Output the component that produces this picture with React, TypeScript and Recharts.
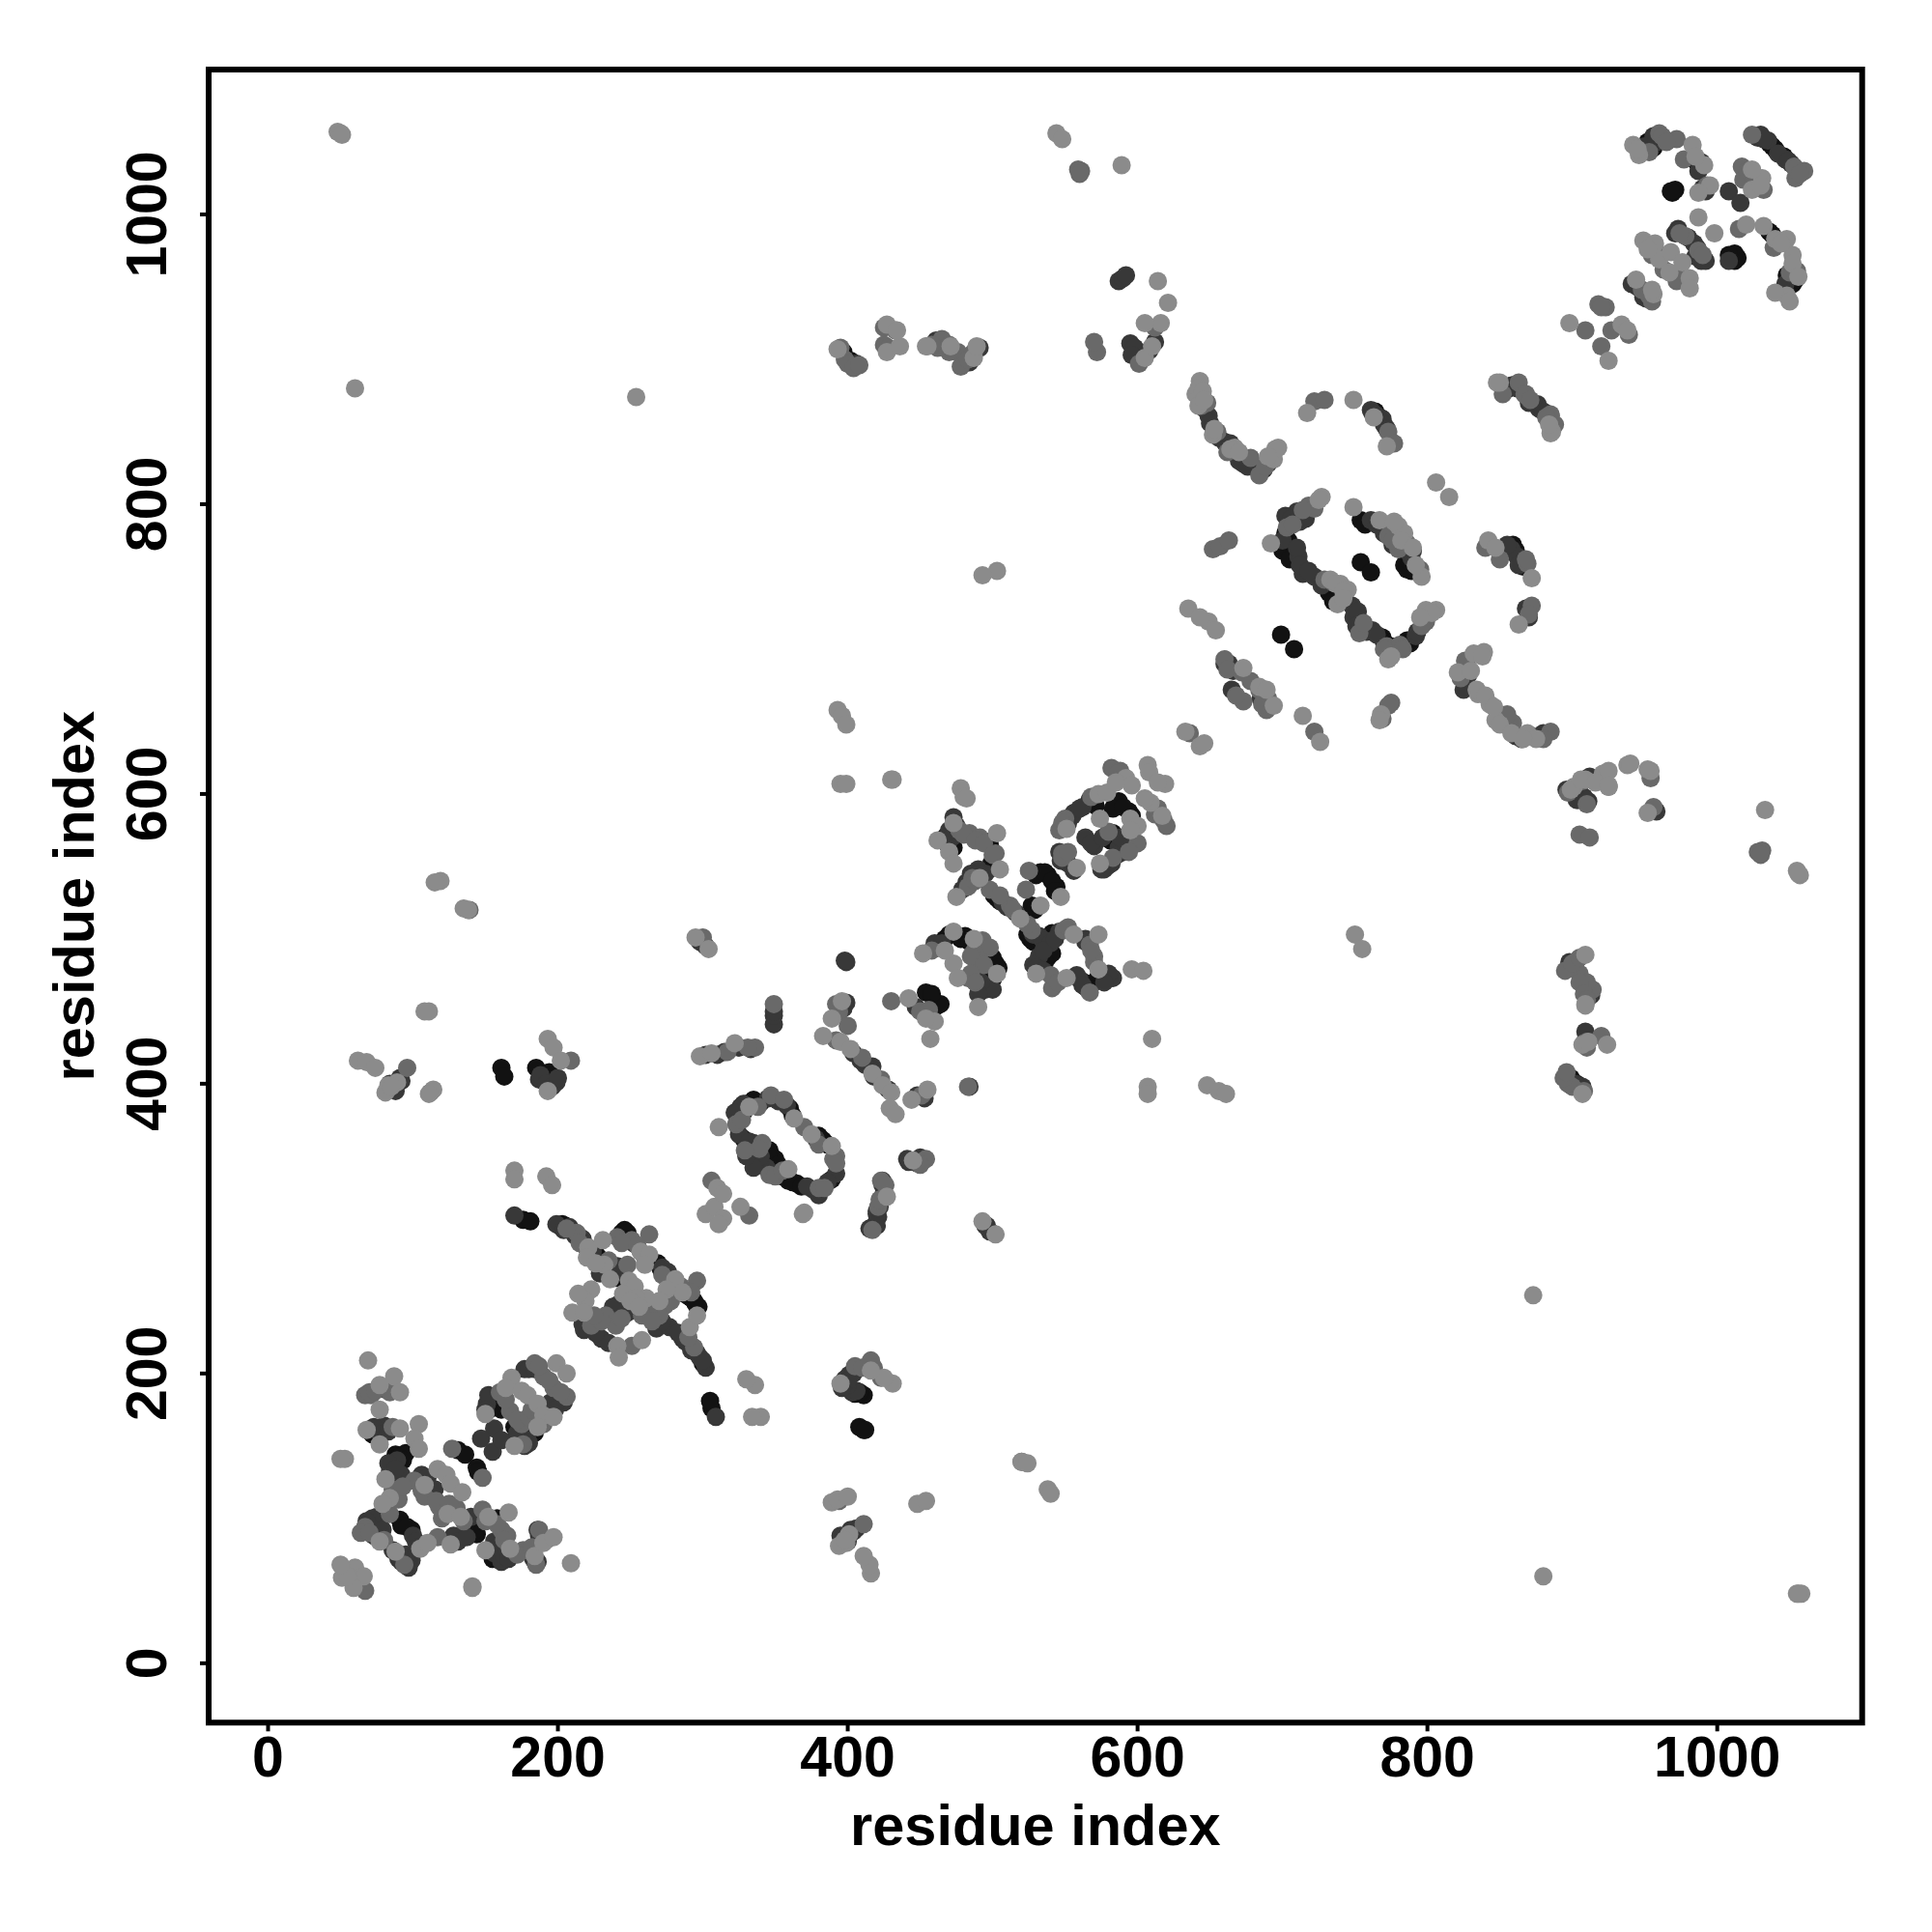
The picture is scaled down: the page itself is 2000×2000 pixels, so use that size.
import React from 'react'
import { ScatterChart, Scatter, XAxis, YAxis, ReferenceArea } from 'recharts'

const tickValues = [0, 200, 400, 600, 800, 1000]
const axisTitle = 'residue index'

// contact map, points grouped by grey level
const blackPoints: [number, number][] = [
  [70,160],[88,144],[95,145],[70,98],[91,99],[99,92],[142,96],[144,89],[135,90],[158,100],[159,76],
  [131,147],[136,144],[144,135],[145,132],[155,184],[161,175],[177,161],[184,159],[170,163],
  [203,303],[228,280],[240,266],[246,299],[269,276],[292,252],[297,246],[266,246],
  [161,411],[163,405],[185,411],[194,408],[411,161],[408,163],[412,161],[411,185],[408,187],[405,186],
  [176,306],[181,305],[306,176],[305,181],
  [335,389],[360,383],[383,361],[389,334],[365,331],[359,333],[350,348],[346,354],[328,362],
  [466,569],[471,567],[497,567],[500,549],[503,528],[526,500],[533,546],[538,544],[544,536],[527,523],
  [567,596],[587,595],[594,588],[585,570],[541,504],[538,487],[567,468],[572,472],
  [467,500],[481,502],[502,483],[454,463],[462,454],[464,455],
  [706,771],[700,768],[732,739],[769,708],[788,704],[754,789],[784,758],[789,754],[754,760],[761,753],
  [699,710],[708,700],[856,880],[767,860],[764,864],
  [952,1050],[1038,1047],[984,1038],[969,1015],[1038,986],[1050,955],[1010,971],[1014,970],[1012,973],
  [899,404],[903,400],[397,905],[402,899],
  [72,158],[78,160],[90,142],[93,140],[72,96],[73,92],[92,95],[96,94],[97,72],[92,73],[138,92],[140,94],[143,92],[157,80],[160,74],[155,72],
  [163,180],[158,178],[154,176],[178,157],[181,160],[176,157],[172,158],
  [201,302],[205,302],[210,298],[226,283],[244,297],[248,297],[271,272],[289,254],[295,248],[294,250],[264,248],[236,270],[300,207],
  [330,386],[328,380],[340,387],[362,378],[380,364],[386,358],[355,336],[362,332],[368,329],[345,350],[352,344],[333,357],[330,358],
  [468,571],[469,565],[473,563],[499,552],[498,565],[501,530],[505,526],[524,503],[528,498],[530,544],[536,546],[541,540],[543,533],[529,520],
  [569,594],[571,592],[583,590],[590,591],[596,585],[583,573],[581,568],[589,566],[591,570],[539,500],[541,490],[536,484],[563,470],[565,466],[570,470],
  [470,503],[478,500],[484,498],[500,487],[504,480],[500,472],[496,476],[458,462],
  [704,775],[702,780],[705,762],[734,737],[735,733],[770,705],[775,702],[786,706],[757,786],[786,755],[788,760],[859,772],[861,768],[866,757],
  [954,1048],[956,1046],[1040,1045],[1036,1049],[1046,1040],[986,1036],[971,1017],[968,1016],[1012,968],[1008,972],[1036,988],[1052,952],[1054,955],[1048,958],
]

const darkPoints: [number, number][] = [
  [81,189],[75,161],[80,164],[86,137],[84,132],[89,140],[75,101],[77,96],[100,88],[86,78],[95,75],[99,71],
  [106,130],[112,117],[140,101],[129,87],[156,76],[161,70],[187,88],
  [156,162],[147,155],[155,146],[161,154],[177,203],[200,181],[151,179],[179,154],
  [199,303],[208,301],[217,293],[241,274],[229,269],[276,270],[268,231],[277,232],[286,224],[298,211],[302,204],
  [242,248],[248,242],[217,234],[230,224],[235,221],
  [187,403],[199,401],[403,187],[401,199],[91,404],[404,91],[406,93],
  [170,309],[309,170],[326,384],[325,376],[380,323],[335,359],[338,346],
  [417,412],[409,416],[421,308],[441,348],[349,441],[349,447],[484,398],[398,485],[399,484],[496,302],
  [473,584],[493,544],[479,534],[507,525],[532,502],[547,554],[556,547],[556,587],[562,591],[564,570],[570,564],
  [592,567],[587,563],[579,550],[537,496],[546,505],[532,488],[528,482],[560,472],[583,473],[564,500],
  [462,494],[498,468],[491,465],[447,453],
  [710,795],[702,792],[711,764],[714,752],[722,750],[748,730],[749,722],[762,713],[792,709],[761,789],[789,763],
  [858,769],[862,764],[870,722],[827,690],[827,676],[861,640],[878,640],
  [649,861],[660,843],[673,828],[690,828],[761,865],[769,859],[770,855],
  [858,882],[877,866],[885,861],[663,690],[665,672],[896,603],[904,596],
  [587,954],[590,956],[592,958],[956,590],[958,588],
  [859,882],[876,869],[956,1054],[989,1036],[990,1018],[1008,1016],[1016,1008],[1030,1055],[1035,1051],[1047,1038],[1051,1035],
  [1047,952],[971,987],[984,980],[989,968],[941,952],[949,943],
  [907,398],[909,436],[905,397],[406,897],[902,400],[913,461],[897,480],[480,897],[461,913],[491,908],
  [595,911],[911,595],[600,905],[905,600],
  [73,163],[78,158],[83,160],[83,138],[92,130],[86,127],[88,134],[72,100],[68,98],[73,88],[79,92],[102,84],[103,80],[90,72],[92,70],[97,66],
  [107,125],[110,128],[115,120],[128,88],[131,84],[137,87],[156,84],[160,82],[163,74],[166,72],[183,72],[186,70],[186,92],
  [180,203],[184,203],[195,180],[204,180],[152,185],[150,175],[172,159],[177,150],[180,152],[198,175],
  [204,299],[212,295],[219,288],[224,284],[238,270],[243,270],[252,290],[272,273],[279,264],[268,240],[272,236],[283,228],[288,222],[292,216],[296,214],[300,209],
  [218,230],[226,228],[244,244],[238,246],[250,246],
  [328,386],[322,380],[345,390],[352,388],[358,385],[378,362],[392,338],[386,332],[376,327],[372,329],[344,342],[340,350],[335,342],[330,350],[325,365],[332,360],
  [397,452],[399,456],[404,421],[412,413],[418,405],[428,396],[448,392],[453,390],[424,330],[420,312],[419,303],[415,300],[442,346],[448,345],
  [470,575],[475,578],[472,570],[490,548],[495,545],[485,545],[482,539],[510,522],[516,518],[528,503],[534,500],[546,560],[552,552],[552,580],[555,585],[560,590],
  [568,566],[576,570],[590,560],[586,558],[582,552],[577,548],[575,548],[588,570],[540,497],[535,492],[543,500],[530,480],[535,478],[558,475],[562,468],[580,476],[577,470],[564,498],
  [460,497],[465,497],[495,465],[500,465],[492,470],[490,462],
  [706,790],[712,788],[716,790],[700,775],[710,770],[712,758],[718,754],[727,744],[752,726],[751,716],[758,712],[765,710],[778,700],[793,712],[797,718],
  [765,786],[770,780],[776,772],[787,767],[790,768],[855,772],[863,758],[868,728],[828,686],[828,682],[825,672],[858,644],[865,638],[872,640],[880,642],
  [646,866],[650,856],[656,846],[664,842],[670,830],[676,826],[687,824],[762,863],[764,862],[772,852],[853,880],[862,880],[870,870],[880,864],[884,858],
  [950,1047],[958,1050],[1028,1053],[1032,1052],[1042,1042],[1049,1037],[987,1030],[992,1016],[973,990],[980,984],[986,977],[985,971],[992,968],[1008,968],[1052,958],[945,950],[951,942],
  [598,908],[603,900],[596,903],[608,906],[612,912],[908,598],[900,603],[903,596],[906,608],[912,612],
  [480,902],[484,898],[482,900],[902,480],[898,484],[900,482],[302,420],[310,420],[315,422],[325,425],[333,424],[420,302],[420,310],[422,315],[425,325],[424,333],
  [349,450],[450,349],[84,400],[87,398],[92,402],[88,395],[400,84],[398,87],[402,92],[395,88],[188,406],[192,400],[196,398],[200,404],[406,188],[400,192],[398,196],[404,200],
  [298,498],[302,495],[498,298],[495,302],[400,195],[396,190],[660,690],[666,685],[690,660],[685,666],
]

const midPoints: [number, number][] = [
  [67,185],[71,185],[86,163],[89,117],[67,94],[84,103],[94,68],[117,87],[67,50],
  [101,126],[106,119],[118,108],[130,107],[148,106],[161,92],[165,88],[176,78],[185,68],[187,92],[127,148],[148,128],
  [184,207],[190,198],[197,190],[206,184],[167,174],[175,165],[176,151],
  [213,297],[248,275],[241,294],[251,292],[263,296],[296,264],[274,247],[270,240],[294,218],
  [233,240],[240,233],[223,233],[251,219],
  [209,416],[416,209],[96,411],[411,96],[332,309],[306,333],[336,425],[331,425],[349,455],[317,422],
  [347,392],[356,389],[390,348],[380,328],[346,337],[341,359],
  [392,455],[451,392],[454,348],[423,333],[421,315],[417,299],[423,403],[483,398],[300,501],
  [477,575],[484,573],[491,570],[502,559],[486,542],[483,536],[498,534],[512,523],[525,547],[523,534],[527,506],
  [548,559],[550,583],[580,574],[583,556],[582,618],[588,616],[614,590],[541,466],[567,463],[570,488],[567,496],[549,506],
  [493,499],[498,494],[487,491],[491,485],[483,473],[430,457],
  [718,799],[703,784],[729,748],[753,711],[772,702],[781,703],[799,719],[773,778],[780,769],
  [869,759],[872,730],[859,649],[885,643],[775,843],[684,820],[722,871],[729,872],
  [867,876],[868,875],[885,862],[660,693],[673,664],[689,658],[652,769],[657,771],[663,775],[769,652],[775,663],
  [636,642],[722,643],[773,661],[907,609],[910,593],[954,611],[956,591],
  [960,1056],[972,1052],[977,1038],[993,1020],[1017,1033],[1018,1024],[1032,1017],[1024,1055],[1055,1031],[1054,1025],
  [1015,990],[1039,977],[1055,961],[978,985],[987,975],[958,974],[973,957],[953,944],[918,938],[923,936],[909,920],[939,917],[920,909],
  [863,884],[868,876],[910,429],[920,433],[903,485],[911,467],[425,922],[433,920],[467,911],[485,903],
  [465,914],[476,905],[914,465],[905,476],[612,922],[922,612],[601,897],[897,601],[572,905],[905,572],[912,570],
  [570,912],[1031,561],[561,1030],[559,1031],
  [70,187],[74,188],[84,187],[90,113],[86,120],[93,122],[64,90],[70,90],[80,85],[108,115],[116,112],[120,100],[125,110],[135,98],[150,98],[158,96],[163,85],[172,75],[182,80],[192,85],
  [187,205],[194,195],[202,187],[160,187],[164,182],[172,168],[180,170],[182,175],[188,168],[190,165],
  [206,300],[215,290],[235,278],[244,290],[255,288],[259,282],[272,268],[285,260],[292,256],[278,250],[263,245],[258,240],[265,236],[290,225],[230,236],[244,238],[225,240],
  [323,372],[327,375],[338,384],[370,370],[380,358],[392,350],[392,345],[384,328],[350,336],[355,340],[339,355],[329,354],
  [394,450],[400,440],[392,430],[410,418],[426,330],[422,320],[450,344],
  [480,572],[488,568],[494,566],[500,558],[488,540],[505,530],[514,520],[524,510],[548,556],[552,560],[546,575],[548,580],[568,598],[590,612],[586,614],[612,586],[618,582],[620,578],[600,566],[594,560],
  [540,475],[545,470],[570,484],[568,492],[552,508],[458,492],[485,488],[494,482],[485,476],[488,470],[450,450],[456,451],
  [722,797],[714,796],[707,786],[735,746],[756,718],[770,700],[783,700],[796,716],[775,785],[776,775],[786,773],[795,755],[840,770],[850,762],[868,762],[870,724],[826,692],[823,680],[855,655],[880,638],
  [644,868],[648,870],[655,850],[662,836],[678,832],[688,826],[692,833],[773,850],[777,842],[852,876],[871,872],[882,860],[888,855],
  [953,1043],[962,1054],[965,1050],[1021,1030],[1025,1028],[1053,1033],[1060,1030],[1057,1028],[974,987],[990,972],[955,972],[963,962],[972,954],[948,948],[955,940],[920,936],[927,920],[1050,960],
  [395,908],[398,900],[400,897],[404,894],[408,896],[908,395],[900,398],[897,400],[894,404],[896,408],
  [1028,560],[1030,558],[560,1028],[112,394],[394,112],[139,520],[520,139],[465,912],[470,910],[912,465],[910,470],[425,910],[428,908],[910,425],[908,428],
  [905,470],[908,462],[910,458],[895,478],[900,483],[905,487],[470,905],[462,908],[458,910],[478,895],[483,900],[487,905],
  [405,205],[410,204],[418,204],[423,197],[672,684],[678,678],[668,668],[686,662],[690,666],[684,672],[662,686],
]

const lightPoints: [number, number][] = [
  [69,209],[87,198],[91,187],[77,192],[77,175],[91,162],[104,165],[77,151],[68,161],[53,141],[50,141],[101,155],[104,148],
  [81,127],[84,114],[79,110],[77,84],[88,77],[105,79],[110,83],[60,66],[66,60],[51,59],[59,52],[55,60],[50,68],[141,53],[141,52],
  [108,123],[117,134],[123,130],[126,124],[134,118],[124,103],[133,101],[126,82],[152,101],[166,104],[167,79],[150,78],[184,74],
  [190,83],[197,87],[209,69],[199,207],[206,200],[168,197],[164,190],[150,172],[175,188],[179,185],[186,179],[190,171],[197,170],[170,150],[186,163],
  [221,287],[231,292],[232,275],[249,264],[253,260],[257,284],[263,282],[281,265],[286,256],[261,252],[254,252],[291,232],
  [223,258],[219,250],[210,242],[218,242],[241,219],[242,211],[258,223],
  [119,540],[115,539],[138,520],[135,521],[111,450],[108,450],[114,396],[111,393],[62,416],[68,415],[74,411],[83,399],[89,401],[81,394],[85,398],
  [193,431],[197,425],[202,416],[193,395],[170,340],[170,334],[192,336],[196,330],
  [295,501],[304,493],[298,419],[306,421],[322,428],[311,370],[370,311],[369,310],
  [302,310],[308,315],[314,307],[311,303],[326,315],[310,328],[314,324],
  [332,384],[363,376],[375,365],[389,357],[359,341],[340,170],[336,192],[330,196],[334,170],
  [396,457],[389,445],[383,433],[395,429],[402,424],[417,407],[424,399],[430,394],[429,383],[433,379],[444,389],[455,396],[445,347],[427,322],
  [493,305],[502,296],[393,658],[396,654],[399,648],[431,610],[395,607],[399,607],[607,398],[607,393],[648,399],[656,395],[661,393],[610,431],
  [389,111],[393,113],[400,115],[448,110],[454,112],[520,139],[524,138],[538,120],[540,117],
  [416,62],[415,68],[411,74],[399,83],[401,89],[394,81],[398,85],[431,193],[425,197],[416,202],[395,193],
  [462,568],[473,580],[470,560],[473,552],[430,610],[478,604],[480,598],[482,597],[503,573],[505,548],[475,529],[491,542],
  [519,514],[533,523],[547,529],[558,549],[551,576],[574,583],[573,600],[579,601],[595,583],[600,578],[609,594],[605,597],[617,585],[595,575],[574,552],
  [592,611],[596,606],[585,608],[607,620],[608,615],[619,607],[614,608],[530,476],[551,473],[573,479],[573,503],[556,503],[596,479],[604,478],
  [452,490],[473,505],[487,500],[473,483],[467,492],[476,473],[503,476],[490,453],[442,459],[460,443],[454,445],[457,431],
  [727,805],[692,773],[740,745],[745,741],[738,731],[773,693],[799,727],[806,727],[749,798],[767,789],[780,785],[784,780],[796,750],[806,815],[815,805],
  [842,775],[847,770],[872,749],[863,717],[839,698],[832,697],[821,684],[835,669],[843,662],[847,651],[869,642],[875,638],
  [643,885],[640,876],[652,848],[667,839],[697,839],[694,831],[717,863],[749,872],[850,884],[885,849],
  [635,728],[649,719],[654,713],[643,722],[673,687],[684,674],[689,672],[694,661],[633,643],[643,633],[646,635],[714,654],[726,636],[768,655],[767,651],
  [921,614],[925,605],[938,620],[952,617],[952,587],[1033,589],[1055,547],[1057,544],[873,254],[880,60],[60,880],[254,874],[1055,48],[1058,48],
  [750,503],[755,493],[503,754],[493,751],[48,1057],[50,1056],[51,1055],[544,1056],[548,1052],[589,1034],[1056,48],[1056,545],
  [942,1048],[946,1041],[983,1048],[991,1034],[1031,1025],[1024,1031],[1024,1017],[987,998],[998,987],[1020,993],[1032,992],[1040,983],[1048,983],
  [1052,972],[1048,944],[1040,946],[949,982],[957,980],[960,969],[968,974],[976,967],[967,960],[981,956],[981,949],[944,955],[956,945],
  [898,925],[934,924],[925,899],[848,884],[886,850],[614,954],[621,939],[954,616],[940,621],
  [605,901],[610,909],[616,925],[605,925],[901,605],[909,610],[925,616],[925,605],[899,603],[906,610],[916,608],[925,606],
  [454,909],[471,909],[487,901],[909,454],[909,455],[427,905],[436,909],[427,924],[924,427],[907,427],[911,429],[434,920],[489,909],[909,489],[455,909],
  [220,280],[226,276],[236,265],[260,275],[275,258],[270,250],[245,255],[250,250],[256,246],[296,240],[214,255],
  [725,803],[733,748],[737,745],[742,740],[742,735],[775,695],[803,725],[795,722],[777,788],[782,775],[790,770],[792,758],[838,695],[830,685],[834,672],[840,668],[846,660],[850,648],[858,642],[866,638],
  [642,880],[645,878],[642,868],[653,852],[664,838],[670,836],[695,838],[690,833],[763,860],[772,840],[646,872],[884,855],
  [945,1045],[985,1040],[995,1020],[987,1015],[1030,1020],[1044,980],[1052,966],[1056,957],[952,976],[1050,940],[955,948],[938,920],
  [393,907],[907,393],
]

const greySeries = [
  { name: 'black', data: blackPoints, fill: '#121212' },
  { name: 'dark', data: darkPoints, fill: '#383838' },
  { name: 'mid', data: midPoints, fill: '#696969' },
  { name: 'light', data: lightPoints, fill: '#8b8b8b' },
]

const fontFamily = '"Liberation Sans", Arial, sans-serif'

function Dot(props: any) {
  return <circle cx={props.cx} cy={props.cy} r={9.5} fill={props.fill} />
}

function XTick({ x, y, payload }: any) {
  return (
    <text x={x} y={y + 45} textAnchor="middle" fontFamily={fontFamily} fontWeight="bold" fontSize={59} fill="#000">
      {payload.value}
    </text>
  )
}

function YTick({ x, y, payload }: any) {
  return (
    <text
      x={x - 33}
      y={y}
      textAnchor="middle"
      transform={`rotate(-90 ${x - 33} ${y})`}
      fontFamily={fontFamily}
      fontWeight="bold"
      fontSize={59}
      fill="#000"
    >
      {payload.value}
    </text>
  )
}

export default function App() {
  const titleStyle = { fontFamily, fontWeight: 'bold', fontSize: 59.5, fill: '#000' }
  return (
    <div style={{ position: 'absolute', left: 0, top: 0, width: 2000, height: 2000, background: '#fff' }}>
      <ScatterChart width={2000} height={2000} margin={{ top: 72, right: 72.3, bottom: 0, left: 0 }}>
        <XAxis
          type="number"
          dataKey="x"
          domain={[-41, 1100]}
          ticks={tickValues}
          height={216.7}
          axisLine={false}
          tickLine={{ stroke: '#000', strokeWidth: 4 }}
          tickSize={9}
          tickMargin={2}
          tick={<XTick />}
          interval={0}
          label={{ value: axisTitle, position: 'insideTop', offset: 84, style: titleStyle }}
        />
        <YAxis
          type="number"
          dataKey="y"
          domain={[-41, 1100]}
          ticks={tickValues}
          width={216}
          axisLine={false}
          tickLine={{ stroke: '#000', strokeWidth: 4 }}
          tickSize={9}
          tickMargin={2}
          tick={<YTick />}
          interval={0}
          label={{ value: axisTitle, angle: -90, position: 'insideLeft', offset: 76, style: { ...titleStyle, textAnchor: 'middle' } }}
        />
        {greySeries.map((s) => (
          <Scatter
            key={s.name}
            name={s.name}
            data={s.data.map(([x, y]) => ({ x, y }))}
            fill={s.fill}
            shape={<Dot />}
            isAnimationActive={false}
          />
        ))}
        <ReferenceArea x1={-41} x2={1100} y1={-41} y2={1100} fill="none" stroke="#000" strokeWidth={6} ifOverflow="visible" />
      </ScatterChart>
    </div>
  )
}
